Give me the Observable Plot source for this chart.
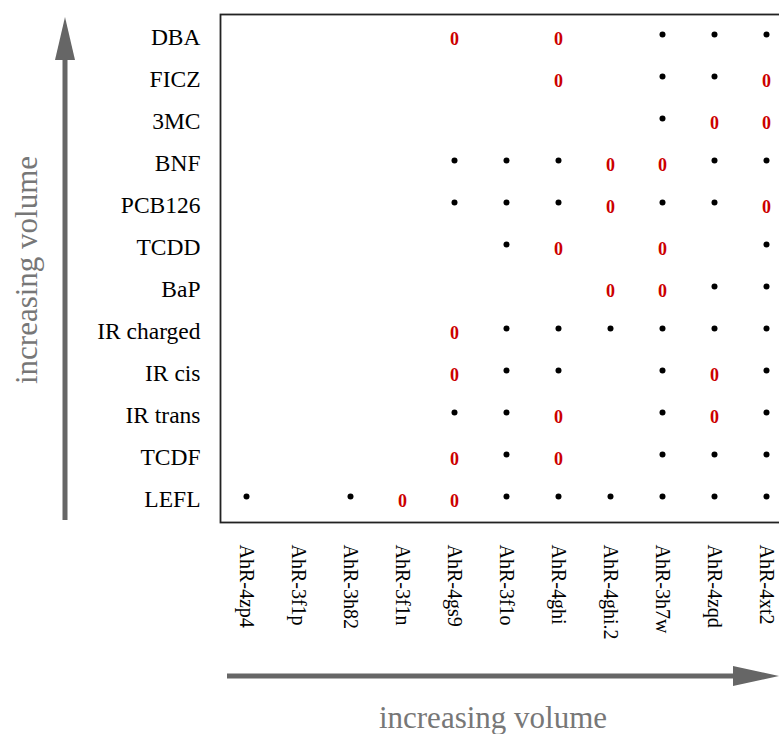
<!DOCTYPE html>
<html>
<head>
<meta charset="utf-8">
<script src="https://cdn.jsdelivr.net/npm/d3@7"></script>
<script src="https://cdn.jsdelivr.net/npm/@observablehq/plot@0.6"></script>
<style>
  html, body { margin: 0; padding: 0; background: #fff; overflow: hidden; }
  #chart { width: 779px; height: 734px; overflow: hidden; }
  #chart svg { max-width: none !important; }
</style>
</head>
<body>
<div id="chart"></div>
<script>
// Ligands (rows, top to bottom)
const ligands = ["DBA", "FICZ", "3MC", "BNF", "PCB126", "TCDD", "BaP",
  "IR charged", "IR cis", "IR trans", "TCDF", "LEFL"];
// Structures (columns, left to right)
const structures = ["AhR-4zp4", "AhR-3f1p", "AhR-3h82", "AhR-3f1n", "AhR-4gs9",
  "AhR-3f1o", "AhR-4ghi", "AhR-4ghi.2", "AhR-3h7w", "AhR-4zqd", "AhR-4xt2"];
// Outcome per ligand: "*" = success (black dot), "0" = failure (red 0), "." = none
const outcomes = [
  "....0.0.***",
  "......0.**0",
  "........*00",
  "....***00**",
  "....***0**0",
  ".....*0.0.*",
  ".......00**",
  "....0******",
  "....0**.*0*",
  "....**0.*0*",
  "....0*0.***",
  "*.*00******"
];
const axisTitle = "increasing volume";

const cells = [];
ligands.forEach((lig, i) => {
  structures.forEach((s, j) => {
    const c = outcomes[i][j];
    if (c !== ".") cells.push({ligand: lig, structure: s, outcome: c});
  });
});

const serif = "'Liberation Serif', 'Times New Roman', serif";

const chart = Plot.plot({
  width: 800,
  height: 734,
  marginLeft: 220,
  marginTop: 14,
  marginBottom: 212,
  marginRight: 8,
  style: {fontFamily: serif, fontSize: "23px", color: "#000", background: "#fff", maxWidth: "none"},
  x: {type: "band", domain: structures, padding: 0, label: null},
  y: {type: "band", domain: ligands, padding: 0, label: null},
  marks: [
    Plot.axisY({tickSize: 0, tickPadding: 20, fontSize: 23.5, label: null}),
    Plot.axisX({tickSize: 0, tickPadding: 22, tickRotate: 90, fontSize: 20, label: null}),
    Plot.frame({stroke: "#222", strokeWidth: 1.8}),
    Plot.dot(cells.filter(d => d.outcome === "*"),
      {x: "structure", y: "ligand", r: 3, dy: -3, fill: "#000", stroke: null}),
    Plot.text(cells.filter(d => d.outcome === "0"),
      {x: "structure", y: "ligand", text: () => "0", fill: "#cc0000",
       fontWeight: "bold", fontSize: 18, dy: 1.5})
  ]
});

document.getElementById("chart").appendChild(chart);

// Decorative axis arrows and titles
const svg = d3.select(chart);
const g = svg.append("g").attr("fill", "#666");
// vertical arrow
g.append("rect").attr("x", 62.5).attr("y", 58).attr("width", 5).attr("height", 462);
g.append("path").attr("d", "M65,17 L75,60 L55,60 Z");
// horizontal arrow
g.append("rect").attr("x", 227).attr("y", 673.5).attr("width", 510).attr("height", 5);
g.append("path").attr("d", "M779,676 L733,666 L733,686 Z");

svg.append("text")
  .attr("transform", "translate(37,270) rotate(-90)")
  .attr("text-anchor", "middle")
  .attr("fill", "#777")
  .attr("font-family", serif)
  .attr("font-size", 31)
  .text(axisTitle);
svg.append("text")
  .attr("x", 493).attr("y", 728)
  .attr("text-anchor", "middle")
  .attr("fill", "#777")
  .attr("font-family", serif)
  .attr("font-size", 31)
  .text(axisTitle);
</script>
</body>
</html>
